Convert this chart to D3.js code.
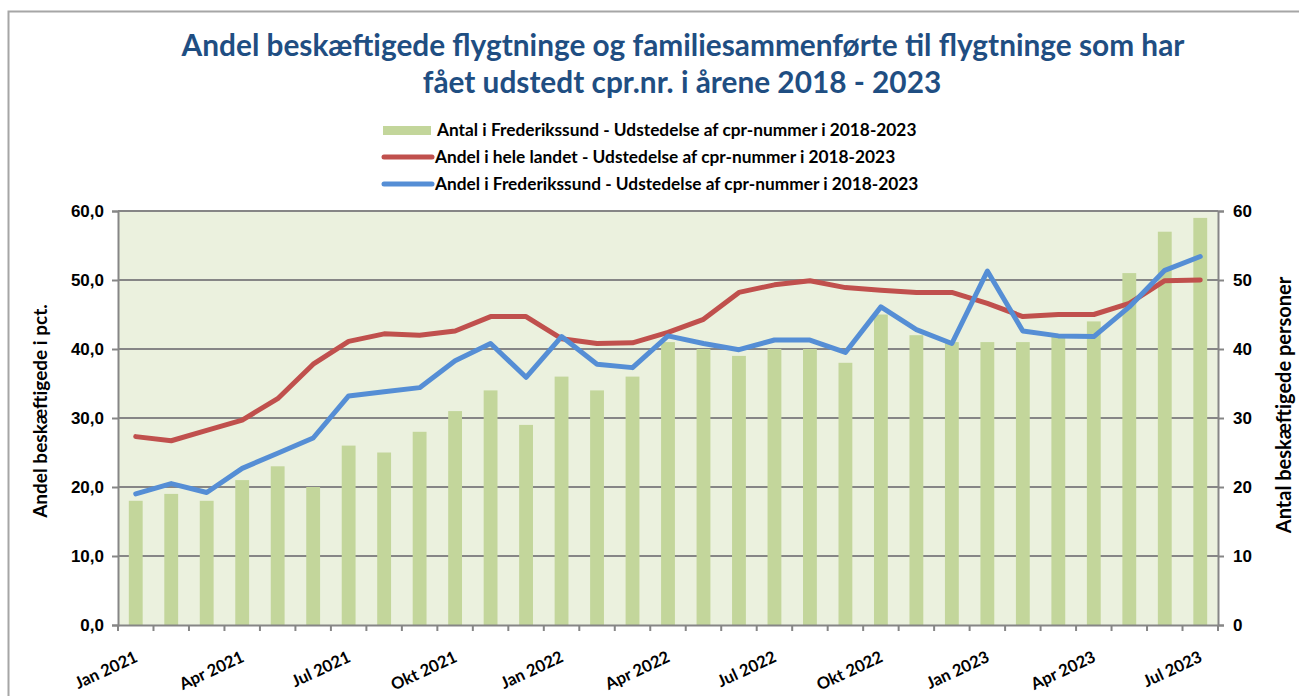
<!DOCTYPE html>
<html>
<head>
<meta charset="utf-8">
<script src="https://cdn.jsdelivr.net/npm/d3@7"></script>
<style>
  body { margin: 0; background: #fff; }
  svg { display: block; }
  .axis-lbl { font-family: "Liberation Sans", Arial, sans-serif; font-weight: bold; font-size: 17px; fill: #000; }
</style>
</head>
<body>
<div id="chart"></div>
<script>
// months shown on the x axis
var months = ["Jan 2021","Feb 2021","Mar 2021","Apr 2021","Maj 2021","Jun 2021","Jul 2021","Aug 2021","Sep 2021","Okt 2021","Nov 2021","Dec 2021",
              "Jan 2022","Feb 2022","Mar 2022","Apr 2022","Maj 2022","Jun 2022","Jul 2022","Aug 2022","Sep 2022","Okt 2022","Nov 2022","Dec 2022",
              "Jan 2023","Feb 2023","Mar 2023","Apr 2023","Maj 2023","Jun 2023","Jul 2023"];
var shownLabels = ["Jan 2021","Apr 2021","Jul 2021","Okt 2021","Jan 2022","Apr 2022","Jul 2022","Okt 2022","Jan 2023","Apr 2023","Jul 2023"];

// antal beskæftigede i Frederikssund (right axis)
var antalFrederikssund = [18,19,18,21,23,20,26,25,28,31,34,29,36,34,36,41,40,39,40,40,38,45,42,41,41,41,42,44,51,57,59];
// andel i hele landet (pct.)
var andelLandet = [27.3,26.7,28.2,29.7,32.8,37.8,41.1,42.2,42.0,42.6,44.7,44.7,41.5,40.8,40.9,42.4,44.3,48.2,49.3,49.9,48.9,48.5,48.2,48.2,46.6,44.7,45.0,45.0,46.6,49.9,50.0];
// andel i Frederikssund (pct.)
var andelFrederikssund = [19.0,20.5,19.2,22.7,24.9,27.1,33.2,33.8,34.4,38.3,40.8,35.9,41.8,37.8,37.3,41.9,40.8,39.9,41.3,41.3,39.5,46.1,42.8,40.8,51.3,42.6,41.9,41.8,46.1,51.4,53.4];

var leftTicks = [0,10,20,30,40,50,60];
var rightTicks = [0,10,20,30,40,50,60];

var seriesNames = ["Antal i Frederikssund - Udstedelse af cpr-nummer i 2018-2023",
                   "Andel i hele landet - Udstedelse af cpr-nummer i 2018-2023",
                   "Andel i Frederikssund - Udstedelse af cpr-nummer i 2018-2023"];

var W = 1299, H = 696;
var plot = { left: 118, right: 1218, top: 211, bottom: 625 };
var font = "Lato, 'Open Sans', sans-serif";

var svg = d3.select("#chart").append("svg")
  .attr("width", W)
  .attr("height", H);

svg.append("rect").attr("width", W).attr("height", H).attr("fill", "#fff");

// chart frame
svg.append("rect")
  .attr("x", 8.5).attr("y", 11.5)
  .attr("width", W + 10).attr("height", H + 10)
  .attr("fill", "none")
  .attr("stroke", "#a6a6a6")
  .attr("stroke-width", 2);

var x = d3.scaleBand()
  .domain(months)
  .range([plot.left, plot.right])
  .paddingInner(0)
  .paddingOuter(0);

var yL = d3.scaleLinear().domain([0, 60]).range([plot.bottom, plot.top]);
var yR = d3.scaleLinear().domain([0, 60]).range([plot.bottom, plot.top]);

// plot background
svg.append("rect")
  .attr("x", plot.left).attr("y", plot.top)
  .attr("width", plot.right - plot.left)
  .attr("height", plot.bottom - plot.top)
  .attr("fill", "#ebf1de");

// gridlines
svg.append("g")
  .selectAll("line")
  .data(leftTicks.slice(1))
  .join("line")
  .attr("x1", plot.left).attr("x2", plot.right)
  .attr("y1", function(d) { return yL(d); })
  .attr("y2", function(d) { return yL(d); })
  .attr("stroke", "#868686")
  .attr("stroke-width", 2);

// bars
var barW = x.bandwidth() * 0.39;
svg.append("g")
  .selectAll("rect")
  .data(antalFrederikssund)
  .join("rect")
  .attr("x", function(d, i) { return x(months[i]) + x.bandwidth() / 2 - barW / 2; })
  .attr("y", function(d) { return yR(d); })
  .attr("width", barW)
  .attr("height", function(d) { return yR(0) - yR(d); })
  .attr("fill", "#c3d69b");

// lines
var line = d3.line()
  .x(function(d, i) { return x(months[i]) + x.bandwidth() / 2; })
  .y(function(d) { return yL(d); });

svg.append("path")
  .attr("d", line(andelLandet))
  .attr("fill", "none")
  .attr("stroke", "#c0504d")
  .attr("stroke-width", 5)
  .attr("stroke-linejoin", "round")
  .attr("stroke-linecap", "round");

svg.append("path")
  .attr("d", line(andelFrederikssund))
  .attr("fill", "none")
  .attr("stroke", "#558ed5")
  .attr("stroke-width", 5)
  .attr("stroke-linejoin", "round")
  .attr("stroke-linecap", "round");

// left axis
var leftAxis = svg.append("g")
  .attr("transform", "translate(" + plot.left + ",0)")
  .call(d3.axisLeft(yL).tickValues(leftTicks).tickSize(6).tickPadding(8)
          .tickFormat(function(d) { return d3.format(".1f")(d).replace(".", ","); }));
leftAxis.selectAll("text").attr("class", "axis-lbl");

// right axis
var rightAxis = svg.append("g")
  .attr("transform", "translate(" + plot.right + ",0)")
  .call(d3.axisRight(yR).tickValues(rightTicks).tickSize(6).tickPadding(9));
rightAxis.selectAll("text").attr("class", "axis-lbl");

// x axis
var bottomAxis = svg.append("g")
  .attr("transform", "translate(0," + plot.bottom + ")")
  .call(d3.axisBottom(x).tickSize(0).tickFormat(""));
bottomAxis.selectAll(".tick").remove();

svg.append("g")
  .selectAll("line")
  .data(months.concat(["end"]))
  .join("line")
  .attr("x1", function(d, i) { return plot.left + i * x.bandwidth(); })
  .attr("x2", function(d, i) { return plot.left + i * x.bandwidth(); })
  .attr("y1", plot.bottom)
  .attr("y2", plot.bottom + 6)
  .attr("stroke", "#868686")
  .attr("stroke-width", 2);

svg.selectAll(".domain").attr("stroke", "#868686").attr("stroke-width", 2);
svg.selectAll(".tick line").attr("stroke", "#868686").attr("stroke-width", 2);

svg.append("g")
  .selectAll("text")
  .data(shownLabels)
  .join("text")
  .attr("transform", function(d) {
    return "translate(" + (x(d) + x.bandwidth() / 2 + 3) + "," + (plot.bottom + 36) + ") rotate(-25)";
  })
  .attr("text-anchor", "end")
  .style("font-family", font)
  .style("font-weight", "bold")
  .style("font-size", "16.5px")
  .text(function(d) { return d; });

// axis titles
svg.append("text")
  .attr("transform", "translate(47," + 411 + ") rotate(-90)")
  .attr("text-anchor", "middle")
  .style("font-family", font)
  .style("font-weight", "bold")
  .style("font-size", "19px")
  .text("Andel beskæftigede i pct.");

svg.append("text")
  .attr("transform", "translate(1291," + 405 + ") rotate(-90)")
  .attr("text-anchor", "middle")
  .style("font-family", font)
  .style("font-weight", "bold")
  .style("font-size", "20px")
  .text("Antal beskæftigede personer");

// title
svg.append("text")
  .attr("x", 683).attr("y", 56)
  .attr("text-anchor", "middle")
  .style("font-family", font)
  .style("font-weight", "bold")
  .style("font-size", "29.8px")
  .style("fill", "#1f4e82")
  .text("Andel beskæftigede flygtninge og familiesammenførte til flygtninge som har");

svg.append("text")
  .attr("x", 682).attr("y", 93)
  .attr("text-anchor", "middle")
  .style("font-family", font)
  .style("font-weight", "bold")
  .style("font-size", "29.8px")
  .style("fill", "#1f4e82")
  .text("fået udstedt cpr.nr. i årene 2018 - 2023");

// legend
var legend = svg.append("g");
var legRows = [130, 157, 184];
legend.append("rect")
  .attr("x", 383).attr("y", legRows[0] - 4)
  .attr("width", 48).attr("height", 9)
  .attr("fill", "#c3d69b");
legend.append("line")
  .attr("x1", 384).attr("x2", 432)
  .attr("y1", legRows[1]).attr("y2", legRows[1])
  .attr("stroke", "#c0504d").attr("stroke-width", 5).attr("stroke-linecap", "round");
legend.append("line")
  .attr("x1", 384).attr("x2", 432)
  .attr("y1", legRows[2]).attr("y2", legRows[2])
  .attr("stroke", "#558ed5").attr("stroke-width", 5).attr("stroke-linecap", "round");
legend.selectAll("text")
  .data(seriesNames)
  .join("text")
  .attr("x", function(d, i) { return i === 0 ? 437 : 435; })
  .attr("y", function(d, i) { return legRows[i]; })
  .attr("dy", "0.35em")
  .style("font-family", font)
  .style("font-weight", "bold")
  .style("font-size", "17.3px")
  .text(function(d) { return d; });
</script>
</body>
</html>
